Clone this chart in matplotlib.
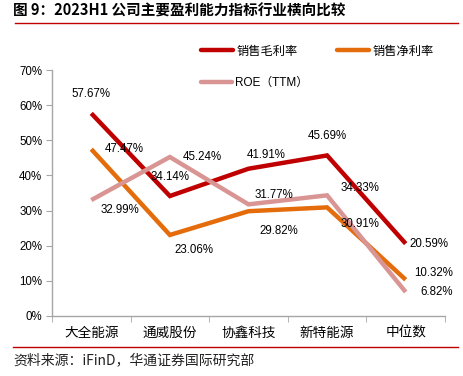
import matplotlib

matplotlib.use("Agg")
import matplotlib.pyplot as plt
from matplotlib.lines import Line2D
import numpy as np

plt.rcParams["font.family"] = ["Liberation Sans", "Noto Sans CJK SC", "DejaVu Sans"]

CATEGORIES = ["大全能源", "通威股份", "协鑫科技", "新特能源", "中位数"]
GROSS = [57.67, 34.14, 41.91, 45.69, 20.59]
NET = [47.47, 23.06, 29.82, 30.91, 10.32]
ROE = [32.99, 45.24, 31.77, 34.33, 6.82]

SERIES = [
    ("销售毛利率", GROSS, "#C00000"),
    ("销售净利率", NET, "#E46C0A"),
    ("ROE（TTM）", ROE, "#D99594"),
]

# label offsets (points) per series, per category
OFFSETS = {
    "销售毛利率": [(0, 14), (0, 14), (13, 10), (0, 14), (17, 0)],
    "销售净利率": [(24, 0), (17, -11), (22, -14), (24, -12), (20, 5)],
    "ROE（TTM）": [(21, -7), (23, 0), (18, 7), (24, 5), (22, 0)],
}

fig = plt.figure(figsize=(4.64, 3.76), dpi=100)
ax = fig.add_axes([0.112, 0.1596, 0.847, 0.6542])

x = np.arange(len(CATEGORIES))
for name, vals, color in SERIES:
    ax.plot(x, vals, color=color, lw=3.2, solid_capstyle="butt", solid_joinstyle="miter", zorder=2)
for name, vals, color in SERIES:
    for xi, v, off in zip(x, vals, OFFSETS[name]):
        ax.annotate(f"{v:.2f}%", (xi, v), xytext=off, textcoords="offset points",
                    ha="center", va="center", fontsize=8.3, color="black", zorder=5)

ax.set_xlim(-0.5, len(CATEGORIES) - 0.5)
ax.set_ylim(0, 70)
ax.set_yticks(np.arange(0, 71, 10))
ax.set_yticklabels([f"{v}%" for v in range(0, 71, 10)], fontsize=8.3)
ax.set_xticks(x)
ax.set_xticklabels(CATEGORIES, fontsize=9.8, family=["Noto Sans CJK SC"])
ax.set_xticks(np.arange(-0.5, len(CATEGORIES), 1), minor=True)
ax.tick_params(axis="x", which="major", length=0, pad=7)
ax.tick_params(axis="x", which="minor", length=4, color="#A6A6A6")
ax.tick_params(axis="y", length=4, color="#A6A6A6", pad=3)
for s in ["top", "right"]:
    ax.spines[s].set_visible(False)
for s in ["left", "bottom"]:
    ax.spines[s].set_color("#A6A6A6")
    ax.spines[s].set_linewidth(1.0)

# legend
handles = [Line2D([0], [0], color=c, lw=3.2, solid_capstyle="round") for _, _, c in SERIES]
fig.legend(handles[:2], [n for n, _, _ in SERIES[:2]], loc="center left",
           bbox_to_anchor=(0.41, 0.864), ncol=2, frameon=False,
           handlelength=2.6, handletextpad=0.3, columnspacing=3.2,
           prop={"family": ["Noto Sans CJK SC"], "size": 8.8})
fig.legend(handles[2:], [SERIES[2][0]], loc="center left", bbox_to_anchor=(0.41, 0.78),
           frameon=False, handlelength=2.6, handletextpad=0.3,
           prop={"family": ["Liberation Sans", "Noto Sans CJK SC"], "size": 8.5})

# title and rules
fig.text(0.028, 0.973, "图 9：2023H1 公司主要盈利能力指标行业横向比较", fontsize=10.5,
         fontweight="bold", va="center", ha="left", family=["Noto Sans CJK SC"])
fig.add_artist(Line2D([0.032, 0.988], [0.939, 0.939], color="#C00000", lw=1))
fig.add_artist(Line2D([0.028, 0.988], [0.077, 0.077], color="#C00000", lw=1))
fig.text(0.028, 0.042, "资料来源：iFinD，华通证券国际研究部", fontsize=10, va="center", ha="left",
         family=["Noto Sans CJK SC"], color="#222222")

fig.savefig("out.png", dpi=100)
